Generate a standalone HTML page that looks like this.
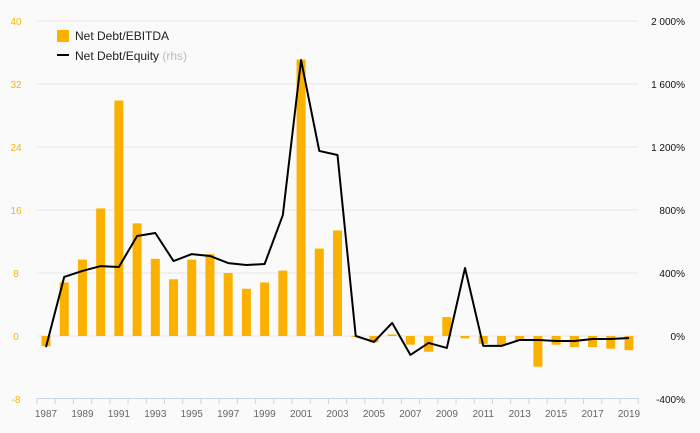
<!DOCTYPE html>
<html><head><meta charset="utf-8"><style>
body{margin:0;background:#fafafa;font-family:"Liberation Sans",sans-serif}
svg{display:block}
</style></head><body>
<svg id="c" width="700" height="433"></svg>
<script>
const years=[];for(let y=1987;y<=2019;y++)years.push(y);
const ebitda=[-1.3,6.8,9.7,16.2,29.9,14.3,9.8,7.2,9.7,10.4,8.0,6.0,6.8,8.3,35.1,11.1,13.4,-0.1,-0.8,0.2,-1.1,-2.0,2.4,-0.3,-1.0,-1.2,-0.6,-3.9,-1.1,-1.4,-1.4,-1.6,-1.8];
const equity=[-70,375,413,444,438,635,654,476,520,508,463,451,457,768,1752,1175,1149,0,-38,83,-120,-44,-76,432,-63,-63,-25,-25,-32,-32,-19,-19,-13];
const leftTicks=[-8,0,8,16,24,32,40];
const rightTicks=[-400,0,400,800,1200,1600,2000];
const rightLabels=["-400%","0%","400%","800%","1 200%","1 600%","2 000%"];
const NS="http://www.w3.org/2000/svg";
const svg=document.getElementById('c');
function el(t,a,p){const e=document.createElementNS(NS,t);for(const k in a)e.setAttribute(k,a[k]);(p||svg).appendChild(e);return e;}
const yL=v=>336-(v)*63/8;
const yR=v=>336-(v)*63/400;
const step=583/32;
const x=i=>46+i*step;
// grid & left ticks
leftTicks.forEach(v=>{
 if(v>-8){const g=el('line',{x1:37,x2:638,y1:yL(v),y2:yL(v),stroke:'#e6e6e6','stroke-width':1});
 }
 const t=el('text',{x:16,y:yL(v)+4,'text-anchor':'middle','font-size':10,fill:'#f7b500'});
 t.textContent=v;
 
});
rightTicks.forEach((v,i)=>{
 const t=el('text',{x:685,y:yR(v)+4,'text-anchor':'end','font-size':10,fill:'#111'});
 t.textContent=rightLabels[i];
 
});
// bars
ebitda.forEach((v,i)=>{
 const y0=yL(0),y1=yL(v);
 const r=el('rect',{x:x(i)-4.5,y:Math.min(y0,y1),width:9,height:Math.max(0.8,Math.abs(y1-y0)),fill:'#fbb100'});
 
});
// line
const p=el('polyline',{points:equity.map((v,i)=>x(i)+','+yR(v)).join(' '),fill:'none',stroke:'#000','stroke-width':2,'stroke-linejoin':'round'});

// x axis
const ax=el('line',{x1:37,x2:638,y1:398.5,y2:398.5,stroke:'#c8d4e8'});

for(let i=0;i<=33;i++){const xx=37+i*step;const tk=el('line',{x1:xx,x2:xx,y1:398,y2:404,stroke:'#c8d4e8'});
 }
years.forEach((yr,i)=>{if(i%2)return;
 const t=el('text',{x:x(i),y:417,'text-anchor':'middle','font-size':10,fill:'#666'});
 t.textContent=yr;});
// legend
const lg=el('g',{});
const sq=el('rect',{x:57,y:30,width:12,height:12,fill:'#fbb100'},lg);
const t1=el('text',{x:75,y:40,'font-size':12,fill:'#222'},lg);t1.textContent='Net Debt/EBITDA';
const ln=el('line',{x1:57,x2:69,y1:55,y2:55,stroke:'#000','stroke-width':2},lg);
const t2=el('text',{x:75,y:60,'font-size':12,fill:'#222'},lg);
t2.innerHTML='Net Debt/Equity <tspan fill="#bbb">(rhs)</tspan>';
</script>
</body></html>
